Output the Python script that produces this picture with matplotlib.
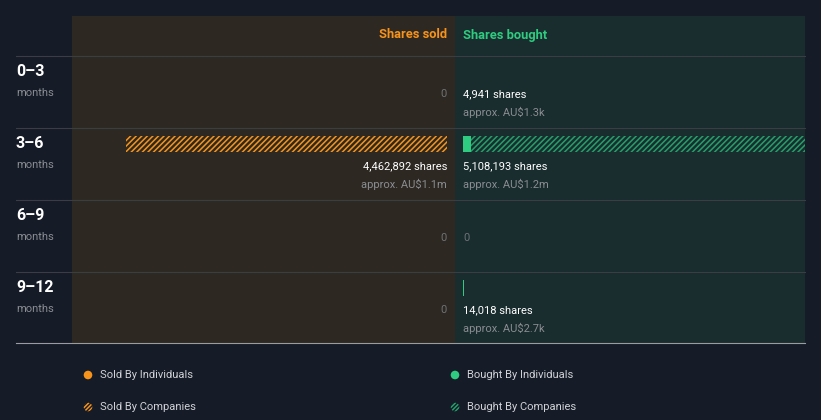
import matplotlib
matplotlib.use("Agg")
import matplotlib.pyplot as plt
from matplotlib.patches import Rectangle, Circle

plt.rcParams["font.family"] = ["Roboto", "DejaVu Sans"]
plt.rcParams["hatch.linewidth"] = 1.1

# ── 数据 ────────────────────────────────────────────────
periods = ["0–3", "3–6", "6–9", "9–12"]
sold_individuals = [0, 0, 0, 0]
sold_companies = [0, 4462892, 0, 0]
bought_individuals = [4941, 110000, 0, 14018]
bought_companies = [0, 4998193, 0, 0]
sold_values = ["", "AU$1.1m", "", ""]
bought_values = ["AU$1.3k", "AU$1.2m", "", "AU$2.7k"]

# ── 样式 ────────────────────────────────────────────────
BG = "#151b27"
SOLD_BG = "#2d2822"
BOUGHT_BG = "#192c2e"
ORANGE = "#f7931a"
GREEN = "#2ecc80"
GREEN_HATCH = "#24a06a"
GRID = "#3a3e43"
WHITE = "#ffffff"
GREY = "#8a8d92"

W, H = 821, 420
fig = plt.figure(figsize=(W / 100, H / 100), dpi=100, facecolor=BG)

# 背景层：像素坐标
bg = fig.add_axes([0, 0, 1, 1])
bg.set_xlim(0, W)
bg.set_ylim(H, 0)
bg.axis("off")
bg.set_facecolor(BG)

PANEL_TOP, HEADER_H, ROW_H = 16, 40, 72
MID, LEFT, RIGHT = 455, 72, 805
panel_bottom = PANEL_TOP + HEADER_H + ROW_H * len(periods)
bg.add_patch(Rectangle((LEFT, PANEL_TOP), MID - LEFT, panel_bottom - PANEL_TOP,
                       color=SOLD_BG, lw=0))
bg.add_patch(Rectangle((MID, PANEL_TOP), RIGHT - MID, panel_bottom - PANEL_TOP,
                       color=BOUGHT_BG, lw=0))
for i in range(len(periods)):
    y = PANEL_TOP + HEADER_H + ROW_H * i
    bg.plot([16, RIGHT], [y, y], color=GRID, lw=0.8)
    bg.text(16, y + 16, periods[i], color=WHITE, fontsize=11.5,
            fontweight="bold", va="center", ha="left")
    bg.text(16, y + 37, "months", color=GREY, fontsize=8, va="center", ha="left")
bg.plot([16, RIGHT], [panel_bottom - 1, panel_bottom - 1], color="#9a9ca0", lw=0.8)

bg.text(MID - 8, PANEL_TOP + 19, "Shares sold", color=ORANGE, fontsize=9.3,
        fontweight="bold", ha="right", va="center")
bg.text(MID + 8, PANEL_TOP + 19, "Shares bought", color=GREEN, fontsize=9.3,
        fontweight="bold", ha="left", va="center")

# 图例
legend = [
    (88, 375, "Sold By Individuals", ORANGE, None),
    (455, 375, "Bought By Individuals", GREEN, None),
    (88, 407, "Sold By Companies", ORANGE, "////////"),
    (455, 407, "Bought By Companies", GREEN_HATCH, "////////"),
]
for x, y, lab, c, h in legend:
    if h is None:
        bg.add_patch(Circle((x, y), 4.3, color=c, lw=0))
    else:
        bg.add_patch(Circle((x, y), 4.3, facecolor="none", edgecolor=c, hatch=h, lw=0))
    bg.text(x + 12, y, lab, color="#d0d2d5", fontsize=8, va="center", ha="left")

# ── 数据坐标轴 ──────────────────────────────────────────
SCALE_MAX = 5.213e6          # 对应 375 像素
px = SCALE_MAX / 375.0
GAP = 8


def make_ax(x0, x1):
    ax = fig.add_axes([x0 / W, 1 - panel_bottom / H, (x1 - x0) / W,
                       (panel_bottom - PANEL_TOP) / H])
    ax.set_facecolor("none")
    ax.axis("off")
    ax.set_ylim(len(periods), -HEADER_H / ROW_H)
    return ax


ax_s = make_ax(LEFT, MID)
ax_s.set_xlim((MID - GAP - LEFT) * px, -GAP * px)
ax_b = make_ax(MID, RIGHT)
ax_b.set_xlim(-GAP * px, (RIGHT - MID - GAP) * px)

rows = list(range(len(periods)))
yc = [r + 16 / ROW_H for r in rows]
bh = 16 / ROW_H

ax_s.barh(yc, sold_individuals, height=bh, color=ORANGE, lw=0)
ax_s.barh(yc, sold_companies, left=sold_individuals, height=bh, color="none",
          edgecolor=ORANGE, hatch="//////", lw=0)
ax_b.barh(yc, bought_individuals, height=bh, color=GREEN, lw=0)
ax_b.barh(yc, bought_companies, left=bought_individuals, height=bh, color="none",
          edgecolor=GREEN_HATCH, hatch="//////", lw=0)

for r in rows:
    for ax, ind, comp, vals, ha in [
        (ax_s, sold_individuals, sold_companies, sold_values, "right"),
        (ax_b, bought_individuals, bought_companies, bought_values, "left"),
    ]:
        total = ind[r] + comp[r]
        if total == 0:
            ax.text(0, r + 38 / ROW_H, "0", color="#6f7277", fontsize=8,
                    ha=ha, va="center")
        else:
            ax.text(0, r + 38 / ROW_H, f"{total:,} shares", color=WHITE,
                    fontsize=8, ha=ha, va="center")
            ax.text(0, r + 56 / ROW_H, f"approx. {vals[r]}", color=GREY,
                    fontsize=8, ha=ha, va="center")

fig.savefig("out.png", dpi=100, facecolor=BG)
